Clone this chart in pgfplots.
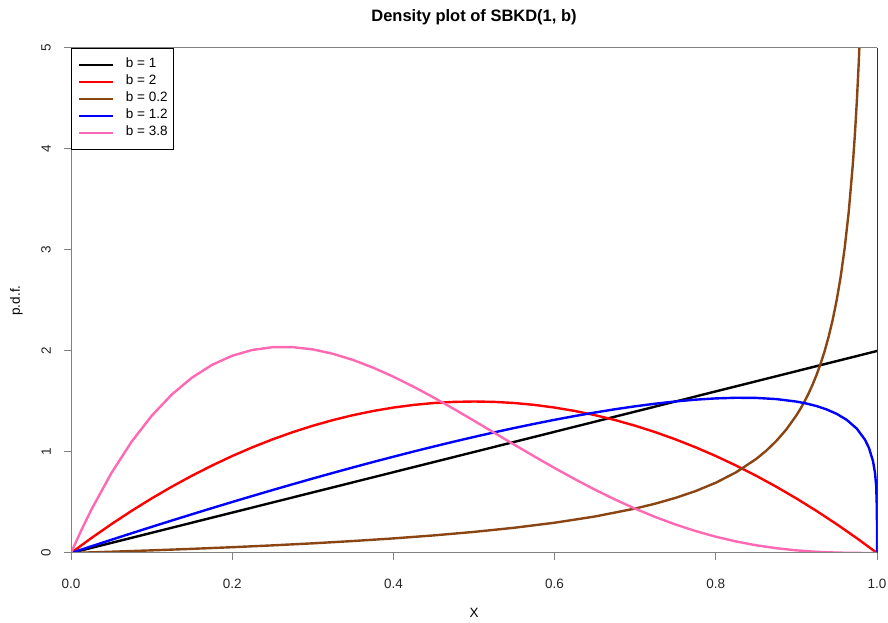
\documentclass[border=0pt]{standalone}
\usepackage{pgfplots}
\pgfplotsset{compat=1.18}
\usepackage{fontspec}
\setmainfont{Liberation Sans}
\definecolor{rbrown}{HTML}{8B4513}
\definecolor{rpink}{HTML}{FF69B4}
\definecolor{axgray}{HTML}{808080}
\begin{document}
\begin{tikzpicture}[x=1pt,y=1pt]
\path[use as bounding box] (0,0) rectangle (888,623);
\begin{axis}[
  at={(71pt,70pt)}, anchor=south west,
  scale only axis, width=806pt, height=505pt,
  xmin=0, xmax=1, ymin=0, ymax=5,
  clip mode=individual,
  axis line style={draw=none},
  tick align=outside, xtick pos=bottom, ytick pos=left,
  major tick length=7pt,
  every tick/.style={axgray, line width=1pt},
  xtick={0,0.2,0.4,0.6,0.8,1},
  xticklabels={0.0,0.2,0.4,0.6,0.8,1.0},
  ytick={0,1,2,3,4,5},
  /pgf/number format/assume math mode=true,
  tick label style={font=\fontsize{13.5}{16}\selectfont, text=black!85},
  xticklabel style={inner ysep=19pt},
  yticklabel style={rotate=90, anchor=south, inner ysep=13pt},
  title={\bfseries Density plot of SBKD(1, b)},
  title style={at={(axis description cs:0.5,1.0406)}, anchor=base, font=\fontsize{16.5}{19}\selectfont, inner sep=0pt},
  xlabel={X},
  xlabel style={at={(axis description cs:0.5,-0.1287)}, anchor=base, font=\fontsize{13.5}{16}\selectfont, inner sep=0pt},
  ylabel={p.d.f.},
  ylabel style={at={(axis description cs:-0.0633,0.5)}, anchor=base, rotate=0, font=\fontsize{13.5}{16}\selectfont, inner sep=0pt},
  legend cell align=left,
  legend image code/.code={\path (0pt,0pt) -- (34pt,0pt); \draw[#1, line width=2.6pt] (7pt,0pt) -- (34pt,0pt);},
  legend style={at={(axis description cs:0,1)}, anchor=north west, draw=black, line width=0.8pt, fill=white,
    inner xsep=6pt, inner ysep=10pt, row sep=4pt, column sep=12pt,
    font=\fontsize{13.5}{16}\selectfont,
    nodes={inner sep=0pt, text height=9.5pt, text depth=3.5pt}},
  every axis plot/.append style={line width=2.4pt},
]
\addplot[black] coordinates {(0,0) (1,2)};
\addlegendentry{b = 1}
\addplot[red] coordinates {
(0,0) (0.025,0.14625) (0.05,0.285) (0.075,0.41625) (0.1,0.54) (0.125,0.65625) (0.15,0.765) (0.175,0.86625)
(0.2,0.96) (0.225,1.04625) (0.25,1.125) (0.275,1.19625) (0.3,1.26) (0.325,1.31625) (0.35,1.365) (0.375,1.40625)
(0.4,1.44) (0.425,1.46625) (0.45,1.485) (0.475,1.49625) (0.5,1.5) (0.525,1.49625) (0.55,1.485) (0.575,1.46625)
(0.6,1.44) (0.625,1.40625) (0.65,1.365) (0.675,1.31625) (0.7,1.26) (0.725,1.19625) (0.75,1.125) (0.775,1.04625)
(0.8,0.96) (0.825,0.86625) (0.85,0.765) (0.875,0.65625) (0.9,0.54) (0.925,0.41625) (0.95,0.285) (0.975,0.14625) (1,0)};
\addlegendentry{b = 2}
\addplot[rbrown] coordinates {
(0,0) (0.05,0.0125) (0.1,0.0261) (0.15,0.041) (0.2,0.0574) (0.25,0.0755) (0.3,0.0958) (0.35,0.1186)
(0.4,0.1445) (0.45,0.1742) (0.5,0.2089) (0.55,0.25) (0.6,0.2997) (0.65,0.3613) (0.7,0.4402) (0.725,0.4888)
(0.75,0.5457) (0.775,0.6134) (0.8,0.6958) (0.825,0.7984) (0.85,0.9306) (0.8625,1.0123) (0.875,1.1084) (0.8875,1.2231) (0.9,1.3629)
(0.905,1.4279) (0.91,1.4992) (0.915,1.578) (0.92,1.6655) (0.925,1.7632) (0.93,1.8735) (0.935,1.9984) (0.94,2.142) (0.945,2.3086)
(0.95,2.5047) (0.955,2.7394) (0.96,3.0258) (0.965,3.3844) (0.97,3.8487) (0.9725,4.1365)
(0.975,4.4757) (0.9775,4.8818) (0.98,5.3779)};
\addlegendentry{b = 0.2}
\addplot[blue] coordinates {
(0,0) (0.025,0.0657) (0.05,0.1307) (0.075,0.1949) (0.1,0.2585) (0.125,0.3213) (0.15,0.3833) (0.175,0.4446)
(0.2,0.505) (0.225,0.5645) (0.25,0.6231) (0.275,0.6808) (0.3,0.7375) (0.325,0.7931) (0.35,0.8477) (0.375,0.9012)
(0.4,0.9534) (0.425,1.0045) (0.45,1.0541) (0.475,1.1024) (0.5,1.1491) (0.525,1.1943) (0.55,1.2377) (0.575,1.2792)
(0.6,1.3188) (0.625,1.3561) (0.65,1.391) (0.675,1.4233) (0.7,1.4525) (0.725,1.4785) (0.75,1.5006) (0.775,1.5183)
(0.8,1.5307) (0.825,1.537) (0.85,1.5355) (0.875,1.524) (0.9,1.4992) (0.9125,1.4799) (0.925,1.4547) (0.9375,1.4215)
(0.95,1.3776) (0.9625,1.3177) (0.975,1.2308) (0.985,1.1227)
(0.99,1.0405) (0.995,0.9104) (0.9975,0.7945) (0.999,0.6625) (0.9999,0.4184) (1,0)};
\addlegendentry{b = 1.2}
\addplot[rpink] coordinates {
(0,0) (0.0125,0.2201) (0.025,0.4248) (0.05,0.79) (0.075,1.0997) (0.1,1.358) (0.125,1.5688) (0.15,1.7358) (0.175,1.8627)
(0.2,1.9531) (0.225,2.0103) (0.25,2.0377) (0.275,2.0385) (0.3,2.0157) (0.325,1.9723) (0.35,1.911) (0.375,1.8345)
(0.4,1.7454) (0.425,1.6462) (0.45,1.5392) (0.475,1.4262) (0.5,1.3095) (0.525,1.191) (0.55,1.0724) (0.575,0.9555)
(0.6,0.8413) (0.625,0.7315) (0.65,0.6272) (0.675,0.5293) (0.7,0.4387) (0.725,0.3561) (0.75,0.2821) (0.775,0.217)
(0.8,0.1611) (0.825,0.1142) (0.85,0.0765) (0.875,0.0473) (0.9,0.026) (0.925,0.0119) (0.95,0.004) (0.975,0.0006) (1,0)};
\addlegendentry{b = 3.8}
\draw[axgray, line width=1pt] (rel axis cs:1,1) -- (rel axis cs:0,1) -- (rel axis cs:0,0) -- (rel axis cs:1,0);
\draw[black!80, line width=1pt] (rel axis cs:1,0) -- (rel axis cs:1,1);
\end{axis}
\end{tikzpicture}
\end{document}
